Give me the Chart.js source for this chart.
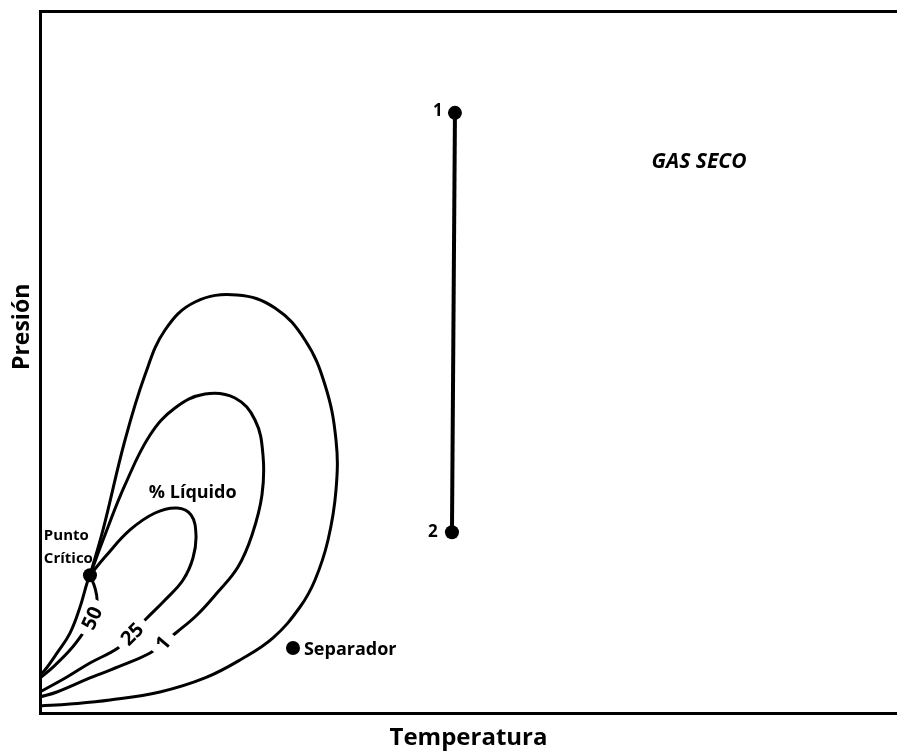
<!DOCTYPE html>
<html>
<head>
<meta charset="utf-8">
<script src="https://cdn.jsdelivr.net/npm/chart.js@4.4.1/dist/chart.umd.min.js"></script>
<style>
  body { margin: 0; background: #fff; overflow: hidden; }
  canvas { display: block; }
</style>
</head>
<body>
<canvas id="myChart" width="897" height="755"></canvas>
<script>
// curva de rocio (envolvente exterior)
var rocioT = [5.83, 7.35, 9.92, 12.25, 14.59, 18.09, 22.99, 27.42, 30.92, 33.26, 34.54, 34.54, 33.61, 32.09, 30.34, 27.19, 23.34, 19.25, 14.0, 8.17, 3.5, 0];
var rocioP = [19.63, 26.07, 38.89, 48.15, 54.56, 58.55, 59.54, 57.69, 53.13, 46.72, 38.89, 31.77, 24.64, 18.95, 15.1, 10.7, 7.55, 4.99, 2.99, 1.85, 1.28, 1.0];
// 1 % liquido
var liq1T = [5.83, 7.58, 9.92, 12.84, 15.75, 19.25, 22.75, 25.09, 26.02, 25.9, 24.74, 23.1, 20.65, 18.32, 15.99, 14.35, 12.84, 9.68, 5.83, 1.98, 0];
var liq1P = [19.63, 25.36, 32.48, 39.6, 43.45, 45.44, 44.87, 41.74, 36.75, 31.05, 25.36, 20.8, 17.09, 13.96, 11.54, 9.97, 8.55, 6.84, 4.99, 2.99, 2.28];
// 25 % liquido
var liq25T = [5.83, 7.58, 10.5, 13.42, 15.99, 17.62, 18.2, 17.85, 16.69, 14.59, 12.25, 10.74, 9.1, 5.83, 3.15, 0];
var liq25P = [19.63, 22.22, 26.07, 28.49, 29.2, 28.21, 25.36, 22.08, 18.95, 16.1, 13.25, 11.25, 9.26, 7.12, 5.13, 2.99];
// 50 % liquido
var liq50T = [5.83, 6.42, 6.65, 6.07, 5.02, 3.5, 1.52, 0];
var liq50P = [19.63, 17.78, 15.79, 13.51, 11.38, 8.96, 6.54, 4.98];
// curva de burbuja
var burbujaT = [5.83, 5.48, 4.67, 3.5, 1.98, 0.58, 0];
var burbujaP = [19.63, 18.49, 15.08, 11.38, 8.53, 6.12, 5.41];

// puntos: 1, 2 (yacimiento), separador, punto critico
var yacimientoT = [48.42, 48.07];
var yacimientoP = [85.49, 25.75];
var separadorT = [29.52];
var separadorP = [9.25];
var criticoT = [5.83];
var criticoP = [19.63];

// etiquetas sobre las curvas
var etiquetas = ['50', '25', '1'];
var etiquetasT = [6.07, 10.74, 14.35];
var etiquetasP = [13.51, 11.25, 9.97];

function pares(t, p) {
  return t.map(function (v, i) { return { x: v, y: p[i] }; });
}

function curva(t, p) {
  return {
    data: pares(t, p),
    showLine: true,
    borderColor: '#000',
    borderWidth: 3,
    pointRadius: 0,
    tension: 0.4,
    fill: false
  };
}

var fuente = '"Open Sans", "DejaVu Sans", sans-serif';

var textos = {
  id: 'textos',
  afterDatasetsDraw: function (chart) {
    var ctx = chart.ctx;
    var x = chart.scales.x, y = chart.scales.y;
    ctx.save();
    ctx.fillStyle = '#000';
    ctx.textBaseline = 'middle';

    // etiquetas de % liquido, giradas sobre la curva
    var angulos = [-65, -45, -50];
    ctx.font = 'bold 20px ' + fuente;
    ctx.textAlign = 'center';
    etiquetas.forEach(function (txt, i) {
      var px = x.getPixelForValue(etiquetasT[i]);
      var py = y.getPixelForValue(etiquetasP[i]);
      var w = ctx.measureText(txt).width;
      ctx.save();
      ctx.translate(px, py);
      ctx.rotate(angulos[i] * Math.PI / 180);
      ctx.fillStyle = '#fff';
      ctx.fillRect(-w / 2 - 7, -9, w + 14, 18);
      ctx.fillStyle = '#000';
      ctx.fillText(txt, 0, 1);
      ctx.restore();
    });

    var notas = [
      { t: '1', x: 47.0, y: 85.8, size: 17, align: 'right' },
      { t: '2', x: 46.4, y: 25.8, size: 17, align: 'right' },
      { t: 'Separador', x: 30.8, y: 9.0, size: 18, align: 'left' },
      { t: '% Líquido', x: 12.7, y: 31.3, size: 18, align: 'left' },
      { t: 'Punto', x: 0.45, y: 25.3, size: 15, align: 'left' },
      { t: 'Crítico', x: 0.45, y: 22.0, size: 15, align: 'left' },
      { t: 'GAS SECO', x: 76.9, y: 78.5, size: 21, align: 'center', italic: true }
    ];
    notas.forEach(function (n) {
      ctx.font = (n.italic ? 'italic ' : '') + 'bold ' + n.size + 'px ' + fuente;
      ctx.textAlign = n.align;
      ctx.fillText(n.t, x.getPixelForValue(n.x), y.getPixelForValue(n.y));
    });

    // titulo del eje de presion
    ctx.save();
    ctx.font = 'bold 23px ' + fuente;
    ctx.textAlign = 'center';
    ctx.translate(chart.chartArea.left - 18, y.getPixelForValue(55));
    ctx.rotate(-Math.PI / 2);
    ctx.fillText('Presión', 0, 0);
    ctx.restore();

    ctx.restore();
  }
};

var ctx = document.getElementById("myChart");
var myChart = new Chart(ctx, {
  type: 'scatter',
  data: {
    datasets: [
      curva(rocioT, rocioP),
      curva(liq1T, liq1P),
      curva(liq25T, liq25P),
      curva(liq50T, liq50P),
      curva(burbujaT, burbujaP),
      {
        data: pares(yacimientoT, yacimientoP),
        showLine: true,
        borderColor: '#000',
        borderWidth: 4,
        pointRadius: 7,
        pointBackgroundColor: '#000',
        pointBorderWidth: 0
      },
      {
        data: pares(separadorT, separadorP),
        pointRadius: 7,
        pointBackgroundColor: '#000',
        pointBorderWidth: 0
      },
      {
        data: pares(criticoT, criticoP),
        pointRadius: 7,
        pointBackgroundColor: '#000',
        pointBorderWidth: 0
      }
    ]
  },
  options: {
    responsive: false,
    animation: false,
    layout: { autoPadding: false, padding: { top: 11, left: 0, right: 0, bottom: 0 } },
    plugins: {
      legend: { display: false },
      tooltip: { enabled: false }
    },
    scales: {
      x: {
        type: 'linear',
        min: 0,
        max: 100,
        grid: { display: false },
        ticks: { display: false },
        border: { display: true, color: '#000', width: 3 },
        title: {
          display: true,
          text: 'Temperatura',
          color: '#000',
          font: { family: fuente, size: 24, weight: 'bold' },
          padding: { top: 0, bottom: 2 }
        },
        afterFit: function (s) { s.height = 42; }
      },
      xTop: {
        type: 'linear',
        position: 'top',
        min: 0,
        max: 100,
        grid: { display: false },
        ticks: { display: false },
        border: { display: true, color: '#000', width: 3 },
        afterFit: function (s) { s.height = 0; }
      },
      y: {
        type: 'linear',
        min: 0,
        max: 100,
        grid: { display: false },
        ticks: { display: false },
        border: { display: true, color: '#000', width: 3 },
        afterFit: function (s) { s.width = 40; }
      }
    }
  },
  plugins: [textos]
});
</script>
</body>
</html>
